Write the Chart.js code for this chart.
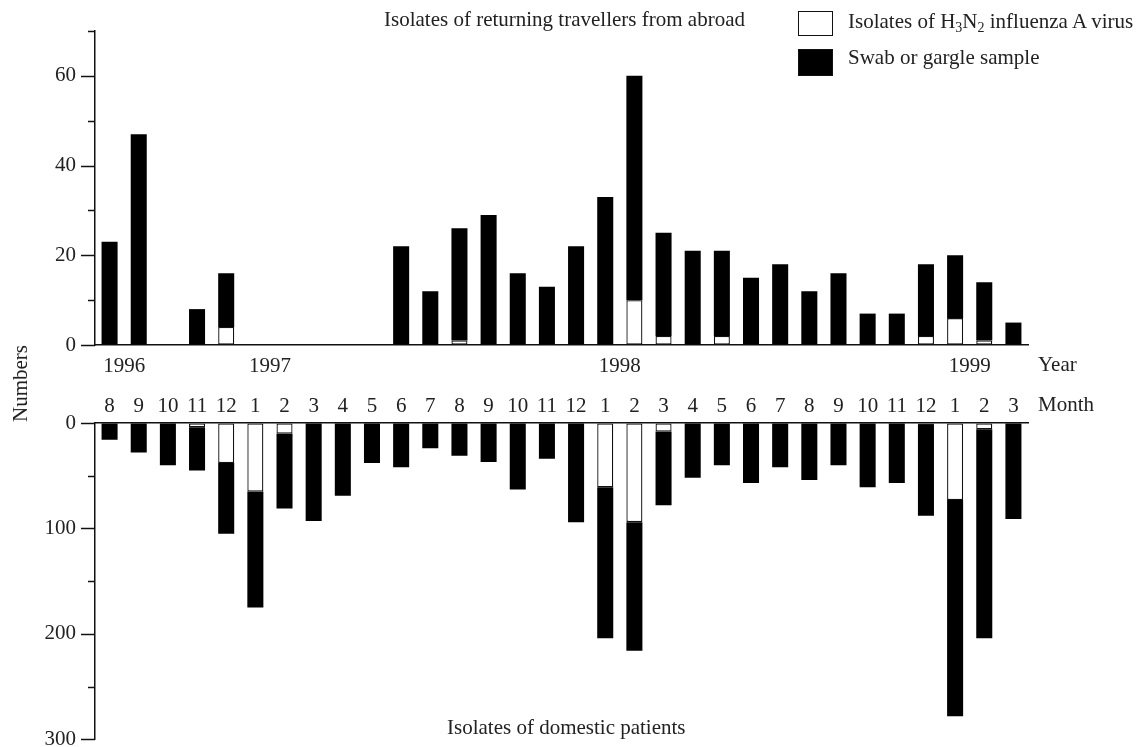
<!DOCTYPE html>
<html>
<head>
<meta charset="utf-8">
<script src="https://cdn.jsdelivr.net/npm/chart.js@4.4.1/dist/chart.umd.min.js"></script>
<style>
    body { margin: 0; background: #fff; }
    #wrap { position: relative; width: 1145px; height: 747px; overflow: hidden;
            font-family: "Liberation Serif", "Times New Roman", serif; color: #222; }
    canvas { position: absolute; left: 0; }
    .lbl { position: absolute; font-size: 21px; line-height: 1; white-space: nowrap; }
    .lbl sub { font-size: 14px; vertical-align: -4px; line-height: 0; }
    .box { position: absolute; border: 1.5px solid #111; box-sizing: border-box; }
</style>
</head>
<body>
<div id="wrap">
    <canvas id="travelChart" width="1145" height="380" style="top:0"></canvas>
    <canvas id="domesticChart" width="1145" height="377" style="top:380px"></canvas>

    <div class="lbl" style="left:384px; top:9px;">Isolates of returning travellers from abroad</div>
    <div class="box" style="left:798px; top:11px; width:35px; height:25px; background:#fff;"></div>
    <div class="lbl" style="left:848px; top:11px;">Isolates of H<sub>3</sub>N<sub>2</sub> influenza A virus</div>
    <div class="box" style="left:798px; top:49px; width:35px; height:27px; background:#000;"></div>
    <div class="lbl" style="left:848px; top:47px;">Swab or gargle sample</div>
    <div class="lbl" style="left:1038px; top:354px;">Year</div>
    <div class="lbl" style="left:1038px; top:394px;">Month</div>
    <div class="lbl" style="left:-18px; top:373px; width:77px; text-align:center; transform:rotate(-90deg);">Numbers</div>
    <div class="lbl" style="left:447px; top:717px;">Isolates of domestic patients</div>
</div>

<script>
// Aug 1996 .. Mar 1999
const months = ['8', '9', '10', '11', '12', '1', '2', '3', '4', '5', '6', '7', '8', '9', '10', '11',
                '12', '1', '2', '3', '4', '5', '6', '7', '8', '9', '10', '11', '12', '1', '2', '3'];
const years = ['1996', '1997', '1998', '1999'];
const yearSlots = [0.5, 5.5, 17.5, 29.5];

// Returning travellers (upper panel): white = H3N2 isolates, black = rest of samples
const travelIsolates = [0, 0, 0, 0, 4, 0, 0, 0, 0, 0, 0, 0, 1, 0, 0, 0,
                        0, 0, 10, 2, 0, 2, 0, 0, 0, 0, 0, 0, 2, 6, 1, 0];
const travelSwab = [23, 47, 0, 8, 12, 0, 0, 0, 0, 0, 22, 12, 25, 29, 16, 13,
                    22, 33, 50, 23, 21, 19, 15, 18, 12, 16, 7, 7, 16, 14, 13, 5];

// Domestic patients (lower panel)
const domesticIsolates = [0, 0, 0, 4, 38, 65, 10, 0, 0, 0, 0, 0, 0, 0, 0, 0,
                          0, 61, 94, 8, 0, 0, 0, 0, 0, 0, 0, 0, 2, 73, 6, 0];
const domesticSwab = [16, 28, 40, 41, 67, 110, 71, 93, 69, 38, 42, 24, 31, 37, 63, 34,
                      94, 143, 122, 70, 52, 40, 57, 42, 54, 40, 61, 57, 86, 205, 198, 91];

const INK = '#111';
const TEXT = '#222';
const FONT = { family: '"Liberation Serif", "Times New Roman", serif', size: 21 };

// Draw y tick marks: long on labelled values, short between
const tickMarks = {
    id: 'tickMarks',
    afterDraw(chart, args, opts) {
        const y = chart.scales.y;
        const ctx = chart.ctx;
        ctx.save();
        ctx.strokeStyle = INK;
        ctx.lineWidth = 1.5;
        y.ticks.forEach(t => {
            const py = Math.round(y.getPixelForValue(t.value)) + 0.5;
            const len = t.value % opts.major === 0 ? 14 : 7;
            ctx.beginPath();
            ctx.moveTo(y.right - len, py);
            ctx.lineTo(y.right, py);
            ctx.stroke();
        });
        ctx.restore();
    }
};

// Year labels under the upper panel
const yearLabels = {
    id: 'yearLabels',
    afterDraw(chart) {
        const x = chart.scales.x;
        const step = x.getPixelForValue(1) - x.getPixelForValue(0);
        const ctx = chart.ctx;
        ctx.save();
        ctx.font = `${FONT.size}px ${FONT.family}`;
        ctx.fillStyle = TEXT;
        ctx.textAlign = 'center';
        ctx.textBaseline = 'alphabetic';
        years.forEach((yr, i) => {
            ctx.fillText(yr, x.getPixelForValue(0) + yearSlots[i] * step, chart.chartArea.bottom + 27);
        });
        ctx.restore();
    }
};

function datasets(isolates, swab) {
    return [{
        label: 'Isolates of H3N2 influenza A virus',
        data: isolates,
        backgroundColor: '#fff',
        borderColor: INK,
        borderWidth: ctx => ctx.raw ? 1.3 : 0,
        borderSkipped: false,
        barPercentage: 0.55,
        categoryPercentage: 1
    }, {
        label: 'Swab or gargle sample',
        data: swab,
        backgroundColor: '#000',
        borderWidth: 0,
        barPercentage: 0.55,
        categoryPercentage: 1
    }];
}

function yAxis(max, step, major, reverse) {
    return {
        stacked: true,
        reverse: reverse,
        min: 0,
        max: max,
        afterFit: s => { s.width = 95; },
        afterBuildTicks: s => {
            s.ticks = [];
            for (let v = 0; v <= max; v += step) s.ticks.push({ value: v });
        },
        grid: { display: true, drawOnChartArea: false, drawTicks: true, tickLength: 14, color: 'rgba(0,0,0,0)' },
        border: { display: true, color: INK, width: 1.5 },
        ticks: {
            padding: 5,
            color: TEXT,
            font: FONT,
            callback: v => (v % major === 0 ? String(v) : '')
        }
    };
}

new Chart(document.getElementById('travelChart'), {
    type: 'bar',
    data: { labels: months, datasets: datasets(travelIsolates, travelSwab) },
    options: {
        responsive: false,
        animation: false,
        layout: { padding: { top: 31, right: 117, bottom: 35, left: 0 } },
        plugins: { legend: { display: false }, tooltip: { enabled: false }, tickMarks: { major: 20 } },
        scales: {
            x: {
                stacked: true,
                afterFit: s => { s.height = 0; },
                grid: { display: false, drawTicks: false },
                border: { display: true, color: INK, width: 1.5 },
                ticks: { display: false }
            },
            y: yAxis(70, 10, 20, false)
        }
    },
    plugins: [tickMarks, yearLabels]
});

new Chart(document.getElementById('domesticChart'), {
    type: 'bar',
    data: { labels: months, datasets: datasets(domesticIsolates, domesticSwab) },
    options: {
        responsive: false,
        animation: false,
        layout: { padding: { top: 0, right: 117, bottom: 11, left: 0 } },
        plugins: { legend: { display: false }, tooltip: { enabled: false }, tickMarks: { major: 100 } },
        scales: {
            x: {
                position: 'top',
                stacked: true,
                afterFit: s => { s.height = 43; },
                grid: { display: false, drawTicks: false },
                border: { display: true, color: INK, width: 1.5 },
                ticks: { color: TEXT, font: FONT, padding: 4, maxRotation: 0, autoSkip: false }
            },
            y: yAxis(300, 50, 100, true)
        }
    },
    plugins: [tickMarks]
});
</script>
</body>
</html>
